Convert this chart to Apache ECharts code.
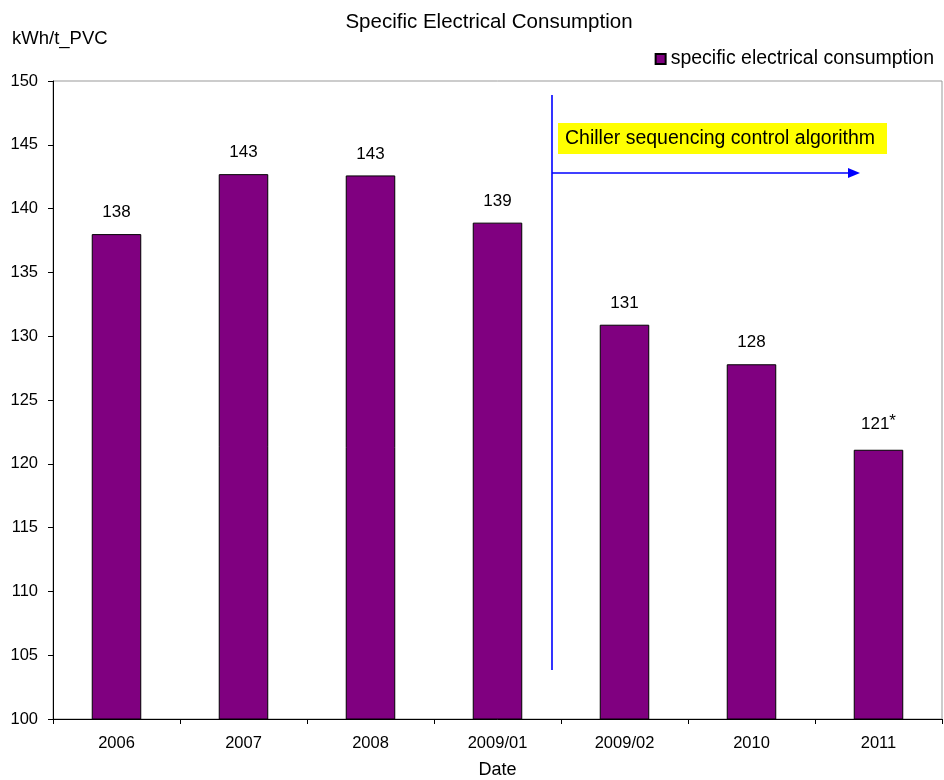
<!DOCTYPE html>
<html>
<head>
<meta charset="utf-8">
<script src="https://cdn.jsdelivr.net/npm/echarts@6/dist/echarts.min.js"></script>
<style>html,body{margin:0;padding:0;background:#fff}#chart{width:944px;height:780px}</style>
</head>
<body>
<div id="chart"></div>
<script>
// Specific electrical consumption per period (kWh per tonne PVC)
const categories = ['2006', '2007', '2008', '2009/01', '2009/02', '2010', '2011'];
const consumption = [138.0, 142.7, 142.6, 138.9, 130.9, 127.8, 121.1];
// Periods whose value is provisional, marked with an asterisk
const provisional = [false, false, false, false, false, false, true];
const yTicks = { min: 100, max: 150, interval: 5 };

const FONT = '"Liberation Sans", Arial, sans-serif';
const BLUE = '#0000ff';
const chart = echarts.init(document.getElementById('chart'));

chart.setOption({
  animation: false,
  textStyle: { fontFamily: FONT },
  title: {
    text: 'Specific Electrical Consumption',
    left: 484, top: 7, textAlign: 'center',
    textStyle: { fontFamily: FONT, fontSize: 20.5, fontWeight: 'normal', color: '#000' }
  },
  legend: {
    right: 5, top: 44,
    itemWidth: 10, itemHeight: 10, itemGap: 6,
    icon: 'rect',
    textStyle: { fontFamily: FONT, fontSize: 19.5, color: '#000' },
    data: ['specific electrical consumption']
  },
  grid: {
    left: 53, right: 2, top: 81, bottom: 61,
    outerBoundsMode: 'none', containLabel: false,
    show: true, borderColor: '#999', borderWidth: 1
  },
  xAxis: {
    type: 'category',
    data: categories,
    name: 'Date', nameLocation: 'middle', nameGap: 42,
    nameTextStyle: { fontFamily: FONT, fontSize: 18, color: '#000' },
    axisLine: { lineStyle: { color: '#000', width: 1 } },
    axisTick: { show: true, alignWithLabel: false, length: 5, lineStyle: { color: '#000' } },
    axisLabel: { fontFamily: FONT, fontSize: 16.5, color: '#000', margin: 16 }
  },
  yAxis: {
    type: 'value',
    min: yTicks.min, max: yTicks.max, interval: yTicks.interval,
    name: 'kWh/t_PVC', nameLocation: 'end', nameGap: 33,
    nameTextStyle: { fontFamily: FONT, fontSize: 18.5, color: '#000', align: 'left', padding: [0, 0, 0, -41] },
    axisLine: { show: true, lineStyle: { color: '#000', width: 1 } },
    axisTick: { show: true, length: 5, lineStyle: { color: '#000' } },
    axisLabel: { fontFamily: FONT, fontSize: 16.5, color: '#000', margin: 15 },
    splitLine: { show: false }
  },
  series: [{
    name: 'specific electrical consumption',
    type: 'bar',
    barWidth: '39%',
    data: consumption,
    itemStyle: { color: '#800080', borderColor: '#000', borderWidth: 1 },
    label: {
      show: true, position: 'top', distance: 13,
      fontFamily: FONT, fontSize: 17, color: '#000',
      formatter: p => Math.round(p.value) + (provisional[p.dataIndex] ? '{sup|*}' : ''),
      rich: { sup: { fontFamily: FONT, fontSize: 17, color: '#000', verticalAlign: 'top', padding: [0, 0, 7, 0] } }
    }
  }],
  graphic: [
    // Start of the chiller sequencing control period
    { type: 'line', z: 10, shape: { x1: 552, y1: 95, x2: 552, y2: 670 }, style: { stroke: BLUE, lineWidth: 1.6 } },
    { type: 'line', z: 10, shape: { x1: 552, y1: 173, x2: 850, y2: 173 }, style: { stroke: BLUE, lineWidth: 1.6 } },
    { type: 'polygon', z: 10, shape: { points: [[860, 173], [848, 168], [848, 178]] }, style: { fill: BLUE } },
    {
      type: 'rect', z: 9, shape: { x: 558, y: 123, width: 329, height: 31 }, style: { fill: '#ffff00' }
    },
    {
      type: 'text', z: 10, x: 565, y: 138.5,
      style: {
        text: 'Chiller sequencing control algorithm',
        font: '19.5px ' + FONT, fill: '#000', verticalAlign: 'middle'
      }
    }
  ]
});
</script>
</body>
</html>
